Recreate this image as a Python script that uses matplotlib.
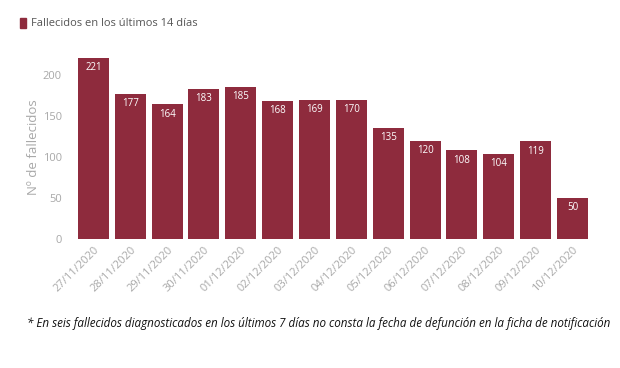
import matplotlib
matplotlib.use("Agg")
import matplotlib.pyplot as plt

fechas = ["27/11/2020", "28/11/2020", "29/11/2020", "30/11/2020", "01/12/2020",
          "02/12/2020", "03/12/2020", "04/12/2020", "05/12/2020", "06/12/2020",
          "07/12/2020", "08/12/2020", "09/12/2020", "10/12/2020"]
fallecidos = [221, 177, 164, 183, 185, 168, 169, 170, 135, 120, 108, 104, 119, 50]

color_barra = "#8E2B3D"
gris = "#A8A8A8"

plt.rcParams["font.family"] = ["Open Sans", "DejaVu Sans"]

fig = plt.figure(figsize=(6.2, 3.68), dpi=100)
ax = fig.add_axes([0.118, 0.3505, 0.838, 0.5015])

x = list(range(len(fechas)))
barras = ax.bar(x, fallecidos, width=0.84, color=color_barra)
for xi, v in zip(x, fallecidos):
    ax.text(xi, v - 5, str(v), ha="center", va="top", color="white", fontsize=7)

ax.set_xlim(-0.55, len(fechas) - 0.45)
ax.set_ylim(0, 225)
ax.set_yticks([0, 50, 100, 150, 200])
ax.set_xticks(x)
ax.set_xticklabels(fechas, rotation=45, ha="right", rotation_mode="anchor")
ax.tick_params(axis="both", length=0, colors=gris, labelsize=8)
ax.tick_params(axis="y", pad=8)
ax.tick_params(axis="x", pad=4)
for s in ax.spines.values():
    s.set_visible(False)
ax.set_ylabel("Nº de fallecidos", color=gris, fontsize=9.5, labelpad=2)

# leyenda
fig.patches.append(plt.Rectangle((20 / 620, 1 - 28 / 368), 6 / 620, 10 / 368,
                                 transform=fig.transFigure, color=color_barra))
fig.text(31 / 620, 1 - 23 / 368, "Fallecidos en los últimos 14 días",
         color="#555555", fontsize=8, va="center")

fig.text(27 / 620, 1 - 323 / 368,
         "* En seis fallecidos diagnosticados en los últimos 7 días no consta la fecha de defunción en la ficha de notificación",
         fontsize=8.4, style="italic", color="#111111", va="center")

fig.savefig("out.png", dpi=100, facecolor="white")
